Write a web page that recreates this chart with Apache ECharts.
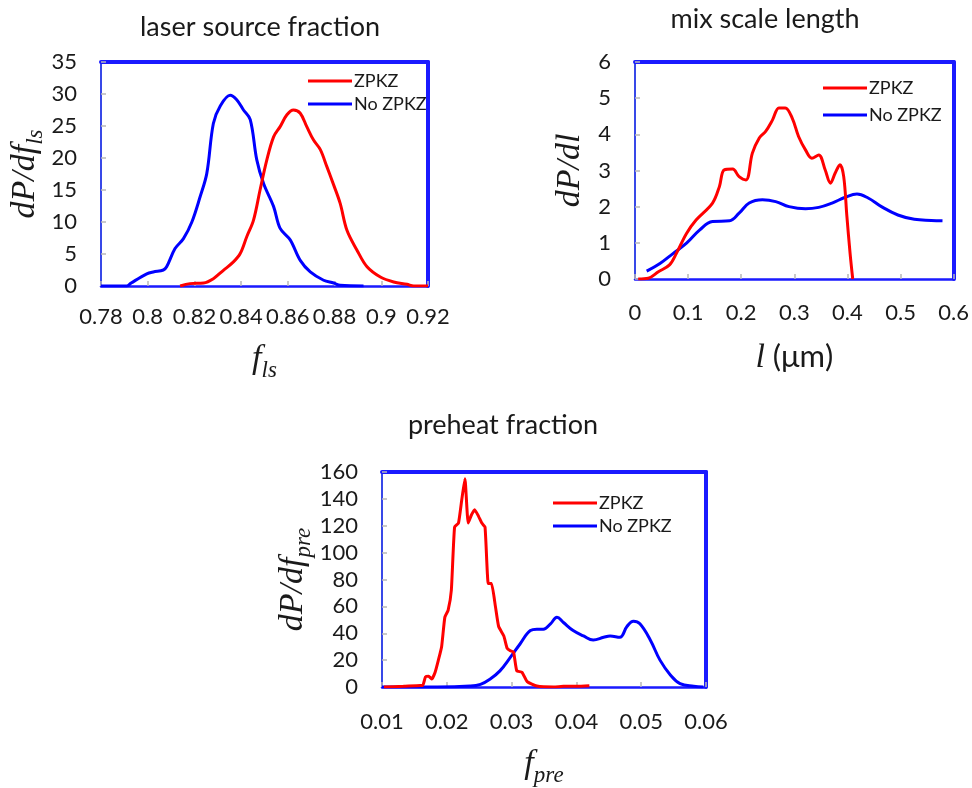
<!DOCTYPE html>
<html>
<head>
<meta charset="utf-8">
<script src="https://cdn.jsdelivr.net/npm/echarts@6/dist/echarts.min.js"></script>
<style>html,body{margin:0;padding:0;background:#fff}#c{width:972px;height:788px}</style>
</head>
<body>
<div id="c"></div>
<script>
// ---------- data ----------
const seriesNames = ['ZPKZ', 'No ZPKZ'];
const titles = ['laser source fraction', 'mix scale length', 'preheat fraction'];

// panel 1: laser source fraction
const lsTickLabels = ['0.78', '0.8', '0.82', '0.84', '0.86', '0.88', '0.9', '0.92'];
const lsZpkzX = [0.8139, 0.8181, 0.8239, 0.8281, 0.8324, 0.8367, 0.8396, 0.8424, 0.8453, 0.8481, 0.851, 0.8539, 0.8567, 0.8596, 0.8624, 0.8653, 0.8681, 0.871, 0.8739, 0.8767, 0.8796, 0.8824, 0.8853, 0.8896, 0.8939, 0.8996, 0.9053, 0.911, 0.9139, 0.92];
const lsZpkzY = [0, 0.37, 0.47, 1.15, 2.45, 3.76, 5.07, 7.7, 10.3, 15.0, 19.7, 23.3, 24.9, 26.75, 27.5, 27.0, 24.9, 22.8, 21.3, 18.65, 15.8, 12.9, 8.7, 5.6, 3.0, 1.4, 0.63, 0.26, 0, 0];
const lsNoX = [0.78, 0.791, 0.7929, 0.7996, 0.8024, 0.8067, 0.8081, 0.8117, 0.8153, 0.8189, 0.8224, 0.8253, 0.8281, 0.831, 0.8353, 0.8381, 0.841, 0.8439, 0.8467, 0.8496, 0.8539, 0.8567, 0.861, 0.8653, 0.8696, 0.8753, 0.8796, 0.8824, 0.8924];
const lsNoY = [0, 0, 0.47, 1.9, 2.2, 2.5, 3.0, 5.85, 7.4, 10.0, 13.9, 17.6, 25.4, 28.1, 29.8, 29.1, 27.5, 26.0, 19.7, 16.0, 12.4, 9.0, 7.2, 4.0, 2.2, 0.9, 0.47, 0.1, 0];

// panel 2: mix scale length
const mixTickLabels = ['0', '0.1', '0.2', '0.3', '0.4', '0.5', '0.6'];
const mixZpkzX = [0.006, 0.025, 0.044, 0.065, 0.078, 0.097, 0.115, 0.146, 0.159, 0.168, 0.184, 0.196, 0.209, 0.221, 0.234, 0.246, 0.259, 0.271, 0.283, 0.296, 0.308, 0.321, 0.333, 0.346, 0.358, 0.368, 0.377, 0.386, 0.393, 0.399, 0.405, 0.41];
const mixZpkzY = [0, 0.02, 0.2, 0.39, 0.71, 1.26, 1.63, 2.1, 2.56, 3.02, 3.04, 2.83, 2.74, 3.48, 3.9, 4.08, 4.4, 4.73, 4.73, 4.45, 3.94, 3.57, 3.34, 3.43, 3.02, 2.65, 2.93, 3.16, 2.83, 1.73, 0.71, 0];
const mixNoX = [0.022, 0.047, 0.072, 0.097, 0.122, 0.146, 0.178, 0.196, 0.215, 0.24, 0.265, 0.29, 0.321, 0.346, 0.371, 0.396, 0.418, 0.439, 0.464, 0.495, 0.526, 0.558, 0.579];
const mixNoY = [0.22, 0.43, 0.71, 0.99, 1.36, 1.59, 1.61, 1.82, 2.1, 2.19, 2.14, 2.0, 1.94, 1.98, 2.1, 2.26, 2.35, 2.24, 2.0, 1.77, 1.65, 1.62, 1.61];

// panel 3: preheat fraction
const preTickLabels = ['0.01', '0.02', '0.03', '0.04', '0.05', '0.06'];
const preZpkzX = [0.0103, 0.0133, 0.0159, 0.0163, 0.0167, 0.0172, 0.0177, 0.0182, 0.0187, 0.0192, 0.0197, 0.0202, 0.0207, 0.0212, 0.0218, 0.0223, 0.0228, 0.0233, 0.0238, 0.0243, 0.0249, 0.0254, 0.0259, 0.0264, 0.0269, 0.0275, 0.028, 0.0288, 0.0293, 0.0298, 0.0303, 0.0308, 0.0316, 0.0324, 0.0339, 0.0365, 0.038, 0.0401, 0.042];
const preZpkzY = [0, 0.5, 1.2, 1.2, 7.4, 8, 6, 11, 20, 30, 52, 57, 72, 119, 122, 139, 155, 122, 128, 132, 127, 122, 119, 77, 77, 60, 45, 38, 29, 27, 26, 12, 11, 4, 0.7, 0, 0.5, 0.5, 1];
const preNoX = [0.01, 0.0185, 0.0236, 0.0252, 0.0267, 0.0282, 0.0298, 0.0313, 0.0329, 0.0339, 0.0349, 0.036, 0.037, 0.038, 0.0395, 0.0411, 0.0426, 0.0442, 0.0452, 0.0467, 0.0478, 0.0488, 0.0498, 0.0514, 0.0529, 0.0545, 0.056, 0.0581, 0.0596];
const preNoY = [0, 0, 0.7, 2, 6, 12, 22, 32, 42, 43, 43, 47, 52, 48, 42, 38, 35, 37, 38, 37, 45, 49, 47, 35, 20, 9, 2.5, 0.5, 0];

// ---------- styling ----------
const RED = '#ff0000', BLUE = '#0000ff', FRAME = '#1a1aff';
const TXT = '#1a1a1a';
const SANS = 'Lato';
const SERIF = 'Liberation Serif';

const pairs = (xs, ys) => xs.map((x, i) => [x, ys[i]]);

const nameRich = {
  i: { fontFamily: SERIF, fontStyle: 'italic', fontSize: 34, lineHeight: 34, verticalAlign: 'top', color: TXT },
  s: { fontFamily: SERIF, fontStyle: 'italic', fontSize: 23, lineHeight: 23, verticalAlign: 'top', padding: [17, 0, 0, 0], color: TXT },
  n: { fontFamily: SANS, fontSize: 31, lineHeight: 34, verticalAlign: 'top', color: TXT }
};

const panels = [
  { grid: { left: 101, top: 62, width: 327, height: 224 },
    xmin: 0.78, xmax: 0.92, xint: 0.02, ymin: 0, ymax: 35, yint: 5, xLabels: lsTickLabels, xMargin: 20,
    xName: '{i|f}{s|ls}', xGap: 56, yName: '{i|dP/df}{s|ls}', yGap: 52, title: titles[0], titleX: 255, titleY: 9,
    legend: { left: 303, top: 67, itemGap: 5 },
    red: pairs(lsZpkzX, lsZpkzY), blue: pairs(lsNoX, lsNoY), smoothRed: 0.35, smoothBlue: 0.35 },
  { grid: { left: 635, top: 62, width: 321, height: 217 },
    xmin: 0, xmax: 0.6, xint: 0.1, ymin: 0, ymax: 6, yint: 1, xLabels: mixTickLabels, xMargin: 23,
    xName: '{i|l}{n| (μm)}', xGap: 62, yName: '{i|dP/dl}', yGap: 48, title: titles[1], titleX: 760, titleY: 1,
    legend: { left: 818, top: 74, itemGap: 9 },
    red: pairs(mixZpkzX, mixZpkzY), blue: pairs(mixNoX, mixNoY), smoothRed: 0.35, smoothBlue: 0.4 },
  { grid: { left: 382, top: 472, width: 324, height: 215 },
    xmin: 0.01, xmax: 0.06, xint: 0.01, ymin: 0, ymax: 160, yint: 20, xLabels: preTickLabels, xMargin: 24,
    xName: '{i|f}{s|pre}', xGap: 60, yName: '{i|dP/df}{s|pre}', yGap: 66, title: titles[2], titleX: 498, titleY: 407,
    legend: { left: 548, top: 489, itemGap: 5 },
    red: pairs(preZpkzX, preZpkzY), blue: pairs(preNoX, preNoY), smoothRed: 0.15, smoothBlue: 0.4 }
];

const option = { animation: false, backgroundColor: '#fff', title: [], grid: [], xAxis: [], yAxis: [], legend: [], series: [] };

panels.forEach((p, k) => {
  option.grid.push(p.grid);
  option.title.push({
    text: p.title, left: p.titleX, top: p.titleY, textAlign: 'center',
    textStyle: { fontFamily: SANS, fontSize: 27, fontWeight: 'normal', color: TXT }
  });
  // main bottom x axis
  option.xAxis.push({
    type: 'value', gridIndex: k, min: p.xmin, max: p.xmax, interval: p.xint,
    position: 'bottom',
    axisLine: { show: true, onZero: false, lineStyle: { color: FRAME, width: 2.5 } },
    axisTick: { show: true, inside: true, length: 5, lineStyle: { color: '#b8b8b8', width: 1.5 } },
    axisLabel: { margin: p.xMargin, fontFamily: SANS, fontSize: 22, color: TXT,
      formatter: (v, i) => p.xLabels[i] !== undefined ? p.xLabels[i] : String(v) },
    splitLine: { show: false },
    name: p.xName, nameLocation: 'middle', nameGap: p.xGap,
    nameTextStyle: { rich: nameRich }
  });
  // top frame axis
  option.xAxis.push({
    type: 'value', gridIndex: k, min: p.xmin, max: p.xmax, interval: p.xint, position: 'top',
    axisLine: { show: true, onZero: false, lineStyle: { color: FRAME, width: 4 } },
    axisTick: { show: false }, axisLabel: { show: false }, splitLine: { show: false }
  });
  // main left y axis
  option.yAxis.push({
    type: 'value', gridIndex: k, min: p.ymin, max: p.ymax, interval: p.yint, position: 'left',
    axisLine: { show: true, onZero: false, lineStyle: { color: '#3848e8', width: 2 } },
    axisTick: { show: true, inside: true, length: 5, lineStyle: { color: '#b8b8b8', width: 1.5 } },
    axisLabel: { margin: 24, fontFamily: SANS, fontSize: 22, color: TXT },
    splitLine: { show: false },
    name: p.yName, nameLocation: 'middle', nameGap: p.yGap, nameRotate: 90,
    nameTextStyle: { rich: nameRich }
  });
  // right frame axis
  option.yAxis.push({
    type: 'value', gridIndex: k, min: p.ymin, max: p.ymax, interval: p.yint, position: 'right',
    axisLine: { show: true, onZero: false, lineStyle: { color: FRAME, width: 4 } },
    axisTick: { show: false }, axisLabel: { show: false }, splitLine: { show: false }
  });
  option.legend.push({
    data: seriesNames, orient: 'vertical', left: p.legend.left, top: p.legend.top, itemGap: p.legend.itemGap,
    icon: 'rect', itemWidth: 44, itemHeight: 3,
    textStyle: { fontFamily: SANS, fontSize: 18, color: TXT, padding: [0, 0, 0, -3] }
  });
  option.series.push({
    name: seriesNames[0], type: 'line', xAxisIndex: 2 * k, yAxisIndex: 2 * k,
    data: p.red, smooth: p.smoothRed, showSymbol: false, symbol: 'none',
    lineStyle: { color: RED, width: 3 }, itemStyle: { color: RED }, z: 3
  });
  option.series.push({
    name: seriesNames[1], type: 'line', xAxisIndex: 2 * k, yAxisIndex: 2 * k,
    data: p.blue, smooth: p.smoothBlue, showSymbol: false, symbol: 'none',
    lineStyle: { color: BLUE, width: 3 }, itemStyle: { color: BLUE }, z: 2
  });
});

const chart = echarts.init(document.getElementById('c'), null, { renderer: 'canvas' });
chart.setOption(option);
</script>
</body>
</html>
